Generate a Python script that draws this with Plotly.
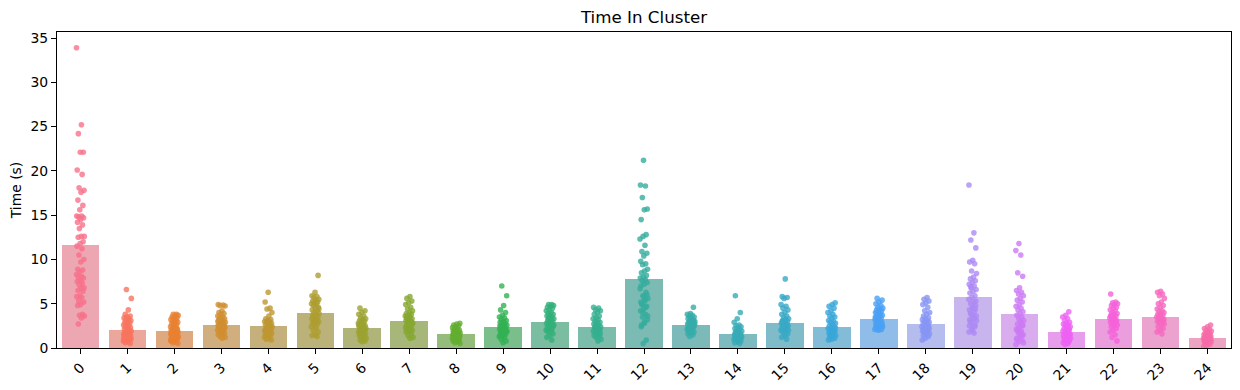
import math
import colorsys
import plotly.graph_objects as go

# ---------------- data ----------------
clusters = [str(i) for i in range(25)]
mean_time = [11.66, 2.07, 1.95, 2.63, 2.52, 3.99, 2.29, 3.08, 1.54, 2.40, 2.97, 2.40,
             7.83, 2.63, 1.61, 2.86, 2.40, 3.31, 2.74, 5.79, 3.87, 1.84, 3.31, 3.53, 1.16]

t0 = [33.9, 25.2, 24.2, 22.1, 22.1, 20.1, 19.6, 18.1, 17.8, 17.6, 16.7, 16.1, 15.6, 14.9, 14.9,
      14.8, 14.7, 14.5, 14.2, 13.9, 13.5, 12.6, 12.6, 12.5, 12.0, 11.8, 11.5, 11.2, 10.5, 10.0,
      9.7, 8.9, 8.8, 8.6, 8.3, 8.1, 8.0, 7.9, 7.6, 7.5, 7.3, 7.1, 6.8, 6.7, 6.5, 6.4, 5.9, 5.8,
      5.7, 5.3, 5.2, 4.9, 4.8, 3.8, 3.7, 3.6, 3.4, 2.7]
t1 = [6.6, 5.6, 4.3, 3.8, 3.6, 3.5, 3.4, 3.3, 3.2, 3.1, 3.0, 2.9, 2.8, 2.7, 2.6, 2.5, 2.4, 2.3,
      2.2, 2.1, 2.0, 1.9, 1.9, 1.8, 1.7, 1.7, 1.6, 1.5, 1.5, 1.4, 1.3, 1.2, 1.1, 1.0, 0.9, 0.8,
      0.7, 0.6, 0.5, 1.8, 1.6, 1.4, 1.2, 1.0, 2.0, 1.5, 1.3, 0.9, 1.1]
t2 = [3.8, 3.8, 3.7, 3.6, 3.5, 3.4, 3.3, 3.2, 3.1, 3.0, 2.9, 2.8, 2.7, 2.6, 2.5, 2.4, 2.3, 2.2,
      2.1, 2.0, 2.0, 1.9, 1.9, 1.8, 1.8, 1.7, 1.7, 1.6, 1.6, 1.5, 1.5, 1.4, 1.4, 1.3, 1.3, 1.2,
      1.2, 1.1, 1.0, 1.0, 0.9, 0.8, 0.7, 0.6, 0.5, 1.5, 1.8, 2.2, 1.2, 0.9]
t3 = [4.9, 4.85, 4.8, 4.75, 4.2, 4.0, 3.9, 3.8, 3.6, 3.5, 3.4, 3.3, 3.2, 3.1, 3.0, 2.9, 2.9, 2.8,
      2.7, 2.6, 2.6, 2.5, 2.4, 2.4, 2.3, 2.2, 2.2, 2.1, 2.0, 2.0, 1.9, 1.8, 1.7, 1.6, 1.5, 1.4,
      1.3, 1.2, 1.1, 2.5, 2.3, 1.9, 3.0, 2.7]
t4 = [6.3, 5.2, 4.5, 4.4, 4.0, 3.6, 3.3, 3.2, 3.1, 3.0, 3.0, 2.9, 2.8, 2.7, 2.6, 2.5, 2.5, 2.4,
      2.3, 2.2, 2.1, 2.0, 2.0, 1.9, 1.8, 1.7, 1.6, 1.5, 1.4, 1.3, 1.2, 1.1, 1.0, 0.9, 2.2, 1.8, 2.6]
t5 = [8.2, 6.3, 5.9, 5.8, 5.7, 5.5, 5.4, 5.3, 5.2, 5.1, 5.0, 4.9, 4.8, 4.6, 4.5, 4.3, 4.2, 4.0,
      3.9, 3.8, 3.7, 3.5, 3.4, 3.3, 3.2, 3.1, 3.0, 2.9, 2.8, 2.7, 2.6, 2.4, 2.2, 2.0, 1.8, 1.5,
      1.4, 1.3, 3.6, 4.4]
t6 = [4.5, 4.2, 4.0, 3.8, 3.6, 3.4, 3.3, 3.2, 3.1, 3.0, 2.9, 2.8, 2.7, 2.6, 2.5, 2.5, 2.4, 2.3,
      2.3, 2.2, 2.1, 2.0, 2.0, 1.9, 1.8, 1.8, 1.7, 1.6, 1.5, 1.4, 1.3, 1.2, 1.1, 1.0, 0.9, 0.8,
      0.7, 2.6, 2.1, 1.5]
t7 = [5.8, 5.6, 5.3, 5.1, 4.9, 4.6, 4.4, 4.2, 4.0, 3.9, 3.8, 3.7, 3.6, 3.5, 3.4, 3.3, 3.2, 3.1,
      3.0, 2.9, 2.8, 2.7, 2.6, 2.5, 2.4, 2.3, 2.2, 2.1, 2.0, 1.9, 1.8, 1.6, 1.4, 1.2, 1.1, 3.4,
      2.9, 2.6]
t8 = [2.8, 2.7, 2.6, 2.5, 2.4, 2.3, 2.2, 2.1, 2.0, 1.9, 1.9, 1.8, 1.8, 1.7, 1.7, 1.6, 1.6, 1.5,
      1.5, 1.4, 1.4, 1.3, 1.3, 1.2, 1.2, 1.1, 1.1, 1.0, 1.0, 0.9, 0.9, 0.8, 0.7, 0.6, 0.5, 1.5,
      1.7, 1.3]
t9 = [7.0, 5.9, 4.8, 4.3, 4.0, 3.7, 3.5, 3.4, 3.2, 3.1, 3.0, 2.9, 2.8, 2.7, 2.6, 2.5, 2.4, 2.3,
      2.2, 2.1, 2.0, 1.9, 1.8, 1.7, 1.6, 1.5, 1.4, 1.3, 1.2, 1.0, 0.8, 0.6, 2.5, 2.0, 1.6, 1.9,
      2.2, 1.4]
t10 = [4.9, 4.9, 4.8, 4.7, 4.6, 4.5, 4.3, 4.2, 4.0, 3.9, 3.8, 3.7, 3.6, 3.5, 3.4, 3.3, 3.2, 3.1,
       3.0, 2.9, 2.8, 2.7, 2.6, 2.5, 2.4, 2.3, 2.2, 2.1, 2.0, 1.9, 1.8, 1.6, 1.4, 1.2, 0.9, 3.3,
       2.6, 3.0]
t11 = [4.6, 4.5, 4.3, 4.2, 4.0, 3.8, 3.6, 3.4, 3.3, 3.2, 3.0, 2.9, 2.8, 2.7, 2.6, 2.5, 2.4, 2.3,
       2.2, 2.1, 2.0, 1.9, 1.8, 1.7, 1.6, 1.5, 1.4, 1.3, 1.2, 1.0, 0.8, 2.4, 2.0, 1.7]
t12 = [21.2, 18.4, 18.3, 17.0, 15.7, 15.6, 14.5, 12.8, 12.6, 12.3, 11.6, 10.9, 10.7, 10.4, 9.8,
       9.5, 9.4, 8.9, 8.7, 8.5, 8.2, 8.0, 7.9, 7.7, 7.6, 7.4, 7.2, 7.0, 6.3, 5.9, 5.6, 5.3, 5.0,
       4.7, 4.4, 4.2, 3.8, 3.5, 3.2, 2.8, 2.4, 0.9, 0.5, 6.7, 5.5, 4.9, 6.0, 5.8, 5.2, 4.6, 4.0,
       3.6, 3.0, 2.6]
t13 = [4.6, 3.9, 3.8, 3.7, 3.6, 3.5, 3.4, 3.3, 3.2, 3.1, 3.0, 3.0, 2.9, 2.8, 2.8, 2.7, 2.6, 2.6,
       2.5, 2.4, 2.4, 2.3, 2.2, 2.1, 2.0, 1.9, 1.8, 1.7, 1.6, 1.5, 1.3, 2.7, 2.5, 2.2, 3.1, 2.9]
t14 = [5.9, 4.0, 3.3, 2.9, 2.6, 2.5, 2.4, 2.3, 2.2, 2.1, 2.0, 1.9, 1.8, 1.7, 1.6, 1.5, 1.5, 1.4,
       1.4, 1.3, 1.3, 1.2, 1.2, 1.1, 1.0, 1.0, 0.9, 0.8, 0.7, 0.6, 0.5, 1.6, 1.2, 0.9, 1.8]
t15 = [7.8, 5.8, 5.7, 5.6, 4.9, 4.7, 4.5, 4.3, 4.0, 3.8, 3.6, 3.4, 3.3, 3.2, 3.1, 3.0, 2.9, 2.8,
       2.7, 2.6, 2.5, 2.4, 2.3, 2.2, 2.1, 2.0, 1.9, 1.8, 1.6, 1.4, 1.2, 1.0, 2.5, 2.0, 1.7, 3.0]
t16 = [5.1, 4.9, 4.7, 4.5, 4.2, 4.0, 3.8, 3.6, 3.5, 3.3, 3.1, 3.0, 2.9, 2.8, 2.6, 2.5, 2.4, 2.3,
       2.2, 2.1, 2.0, 1.9, 1.8, 1.7, 1.6, 1.5, 1.4, 1.3, 1.2, 1.1, 1.0, 0.9, 2.0, 1.6, 2.3]
t17 = [5.6, 5.4, 5.2, 5.0, 4.8, 4.6, 4.5, 4.4, 4.3, 4.2, 4.1, 4.0, 3.9, 3.8, 3.7, 3.6, 3.5, 3.4,
       3.3, 3.2, 3.1, 3.0, 2.9, 2.8, 2.7, 2.6, 2.5, 2.4, 2.3, 2.2, 2.1, 2.0, 3.5, 3.0, 4.0, 2.6,
       2.2, 2.4, 2.5, 2.8, 2.1]
t18 = [5.7, 5.5, 5.3, 5.1, 4.9, 4.6, 4.2, 4.0, 3.8, 3.6, 3.4, 3.3, 3.2, 3.1, 3.0, 2.9, 2.8, 2.7,
       2.6, 2.5, 2.4, 2.3, 2.2, 2.1, 2.0, 1.9, 1.8, 1.7, 1.6, 1.5, 1.4, 1.3, 1.1, 0.9, 2.5, 2.0, 2.3]
t19 = [18.4, 13.0, 12.2, 11.3, 9.9, 9.7, 9.5, 8.7, 8.4, 8.0, 7.8, 7.6, 7.4, 7.2, 7.0, 6.8, 6.6,
       6.4, 6.2, 5.9, 5.7, 5.5, 5.2, 5.0, 4.8, 4.5, 4.3, 4.1, 3.8, 3.6, 3.4, 3.0, 2.6, 2.2, 1.8,
       1.7, 6.9, 5.3, 4.6, 3.2, 2.4, 2.8, 3.1, 3.5, 3.9, 4.4, 2.0, 2.5, 3.3]
t20 = [11.8, 11.0, 10.5, 8.5, 8.1, 6.8, 6.5, 6.3, 6.1, 5.9, 5.6, 5.4, 5.2, 4.9, 4.7, 4.5, 4.3,
       4.1, 3.9, 3.7, 3.5, 3.3, 3.1, 2.9, 2.7, 2.5, 2.3, 2.1, 1.9, 1.7, 1.5, 1.3, 1.1, 0.9, 0.7,
       0.4, 3.0, 2.0, 2.6, 1.8, 1.0, 1.4, 2.2, 0.6, 1.6]
t21 = [4.1, 3.7, 3.5, 3.3, 3.1, 2.9, 2.8, 2.7, 2.6, 2.5, 2.4, 2.3, 2.2, 2.1, 2.0, 1.9, 1.8, 1.7,
       1.6, 1.5, 1.4, 1.3, 1.2, 1.1, 1.0, 0.9, 0.8, 0.7, 0.6, 0.5, 0.4, 1.5, 1.8, 1.2, 2.0]
t22 = [6.1, 5.2, 5.1, 5.0, 4.9, 4.8, 4.6, 4.5, 4.3, 4.2, 4.0, 3.9, 3.8, 3.7, 3.6, 3.5, 3.4, 3.3,
       3.2, 3.1, 3.0, 2.9, 2.8, 2.7, 2.6, 2.5, 2.4, 2.2, 2.0, 1.8, 1.5, 1.2, 0.8, 3.3, 3.6, 2.9]
t23 = [6.4, 6.3, 6.1, 5.9, 5.6, 5.2, 5.0, 4.8, 4.6, 4.4, 4.2, 4.1, 4.0, 3.9, 3.8, 3.7, 3.6, 3.5,
       3.4, 3.3, 3.2, 3.1, 3.0, 2.9, 2.8, 2.7, 2.6, 2.4, 2.2, 2.0, 1.8, 1.6, 3.5, 3.2, 2.9]
t24 = [2.6, 2.4, 2.2, 2.1, 2.0, 1.9, 1.8, 1.7, 1.6, 1.5, 1.5, 1.4, 1.4, 1.3, 1.3, 1.2, 1.2, 1.1,
       1.1, 1.0, 1.0, 0.9, 0.9, 0.8, 0.8, 0.7, 0.7, 0.6, 0.5, 0.4, 0.3, 0.2, 1.2, 0.9, 1.0]

times = [t0, t1, t2, t3, t4, t5, t6, t7, t8, t9, t10, t11, t12, t13, t14, t15, t16, t17,
         t18, t19, t20, t21, t22, t23, t24]

# ---------------- husl palette (seaborn default for many categories) ----------------
_m = [[3.2406, -1.5372, -0.4986], [-0.9689, 1.8758, 0.0415], [0.0557, -0.2040, 1.0570]]
_refU, _refV = 0.19784, 0.46834


def _max_chroma(L, H):
    hrad = math.radians(H)
    sinH, cosH = math.sin(hrad), math.cos(hrad)
    sub1 = (L + 16) ** 3 / 1560896.0
    sub2 = sub1 if sub1 > 0.008856 else L / 903.3
    result = float("inf")
    for m1, m2, m3 in _m:
        top = (0.99915 * m1 + 1.05122 * m2 + 1.14460 * m3) * sub2
        rbottom = 0.86330 * m3 - 0.17266 * m2
        lbottom = 0.12949 * m3 - 0.38848 * m1
        bottom = (rbottom * sinH + lbottom * cosH) * sub2
        for t in (0.0, 1.0):
            C = L * (top - 1.05122 * t) / (bottom + 0.17266 * sinH * t)
            if 0.0 < C < result:
                result = C
    return result


def _f_inv(t):
    return t ** 3 if t ** 3 > 0.008856 else (116 * t - 16) / 903.3


def _from_linear(c):
    return 12.92 * c if c <= 0.0031308 else 1.055 * c ** (1 / 2.4) - 0.055


def husl_to_rgb(h, s, l):
    C = _max_chroma(l, h) / 100.0 * s
    hrad = math.radians(h)
    U, V = C * math.cos(hrad), C * math.sin(hrad)
    varY = _f_inv((l + 16) / 116.0)
    varU = U / (13 * l) + _refU
    varV = V / (13 * l) + _refV
    Y = varY
    X = -(9 * Y * varU) / ((varU - 4) * varV - varU * varV)
    Z = (9 * Y - 15 * varV * Y - varV * X) / (3 * varV)
    rgb = [_from_linear(r[0] * X + r[1] * Y + r[2] * Z) for r in _m]
    return [min(1.0, max(0.0, c)) for c in rgb]


def husl_palette(n, h=0.01, s=0.9, l=0.65):
    cols = []
    for i in range(n):
        hue = ((i / n + h) % 1) * 359
        cols.append(husl_to_rgb(hue, s * 99, l * 99))
    return cols


def desaturate(rgb, prop):
    hh, ll, ss = colorsys.rgb_to_hls(*rgb)
    return colorsys.hls_to_rgb(hh, ll, ss * prop)


def rgba(rgb, a):
    return "rgba(%d,%d,%d,%.3f)" % (round(rgb[0] * 255), round(rgb[1] * 255), round(rgb[2] * 255), a)


pal = husl_palette(len(clusters))
bar_cols = [rgba(desaturate(c, 0.75), 0.7) for c in pal]
pt_cols = [rgba(c, 0.8) for c in pal]

# ---------------- figure ----------------
fig = go.Figure()
fig.add_trace(go.Bar(x=list(range(len(clusters))), y=mean_time, width=0.8,
                     marker=dict(color=bar_cols, line=dict(width=0)), showlegend=False,
                     hoverinfo="skip"))

golden = 0.6180339887
for ci, vals in enumerate(times):
    xs = [ci + ((k * golden + 0.37 * ci) % 1.0 - 0.5) * 0.17 for k in range(len(vals))]
    fig.add_trace(go.Scatter(x=xs, y=vals, mode="markers",
                             marker=dict(size=5.6, color=pt_cols[ci], line=dict(width=0)),
                             showlegend=False))

font_family = "DejaVu Sans"
fig.update_layout(
    width=1240, height=390,
    margin=dict(l=57, r=9, t=32, b=42, autoexpand=False),
    paper_bgcolor="white", plot_bgcolor="white",
    font=dict(family=font_family, size=13.9, color="black"),
    title=dict(text="Time In Cluster", x=(57 + 1231) / 2 / 1240, xanchor="center",
               y=1 - 17 / 390, yanchor="middle", yref="container",
               font=dict(size=16.7, family=font_family, color="black")),
    bargap=0,
)
fig.update_xaxes(range=[-0.5, 24.5], tickmode="array", tickvals=list(range(len(clusters))),
                 ticktext=clusters, tickangle=-45, ticks="outside", ticklen=5, tickwidth=1,
                 tickcolor="black", showline=True, linecolor="black", linewidth=1, mirror=True,
                 showgrid=False, zeroline=False, tickfont=dict(size=13.9), automargin=False)
fig.update_yaxes(range=[0, 35.68], tickmode="array", tickvals=[0, 5, 10, 15, 20, 25, 30, 35],
                 ticks="outside", ticklen=5, tickwidth=1, tickcolor="black", showline=True,
                 linecolor="black", linewidth=1, mirror=True, showgrid=False, zeroline=False,
                 tickfont=dict(size=13.9), automargin=False,
                 title=dict(text="Time (s)", standoff=5, font=dict(size=13.9)))

fig.write_html("out.html", config={"displayModeBar": False},
               post_script="document.body.style.margin='0';document.body.style.overflow='hidden';")
